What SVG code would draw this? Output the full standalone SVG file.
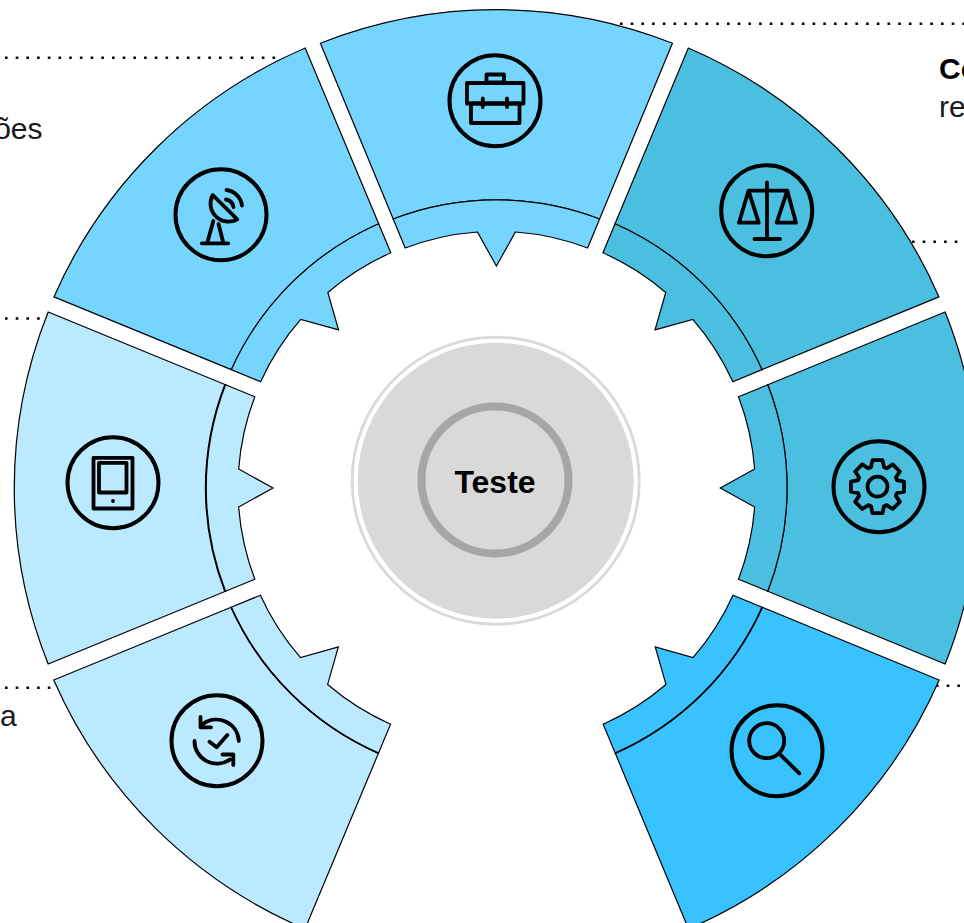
<svg xmlns="http://www.w3.org/2000/svg" xmlns:xlink="http://www.w3.org/1999/xlink" width="964" height="923" viewBox="0 0 964 923">
<style>
.lbl{font-family:"Liberation Sans",Arial,sans-serif;font-size:30px;fill:#1a1a1a}
.dot{fill:none;stroke:#000;stroke-width:2.6;stroke-dasharray:2.6 8.1}
.seg{stroke:#000;stroke-width:1.2;stroke-linejoin:miter}
.arc{fill:none;stroke:#000;stroke-width:1.7}
.ic{fill:none;stroke:#000;stroke-width:3.8;stroke-linecap:round;stroke-linejoin:round}
.ring{fill:none;stroke:#000;stroke-width:4}
.c1{fill:#75D5FF}.c2{fill:#4ABFE0}.c3{fill:#38C2FF}.c4{fill:#BBE9FF}
</style>
<defs>
<g id="wedge">
<path d="M-176 -444.4A477.8 477.8 0 0 1 176 -444.4L103.2 -268.7A287.8 287.8 0 0 0 -103.2 -268.7Z"/>
<path d="M-103.2 -268.7A287.8 287.8 0 0 1 103.2 -268.7L91.2 -239.7A256.4 256.4 0 0 0 19 -255.7L0 -221.7L-19 -255.7A256.4 256.4 0 0 0 -91.2 -239.7Z"/>
</g>
<path id="seam" d="M-103.2 -268.7A287.8 287.8 0 0 1 103.2 -268.7"/>
</defs>
<rect width="964" height="923" fill="#fff"/>
<g id="connectors">
<path class="dot" d="M620 23.7H964"/>
<path class="dot" d="M5 57.7H280"/>
<path class="dot" d="M912 241.7H964"/>
<path class="dot" d="M5 318.5H45"/>
<path class="dot" d="M5 687.7H56"/>
<path class="dot" d="M936 685.7H964"/>
</g>
<g id="node-top">
<use href="#wedge" class="seg c1" transform="translate(496.4 487.7)"/>
<circle class="ring" cx="495" cy="100.7" r="45.5"/>
<g class="ic"><rect x="486.5" y="74.5" width="17.5" height="8"/><rect x="467" y="83" width="56.5" height="20.5"/><rect x="471" y="103.5" width="48.5" height="19.5"/><path d="M482.8 98.5V107M507 98.5V107"/></g>
</g>
<g id="node-scale">
<use href="#wedge" class="seg c2" transform="translate(497.2 486.7) scale(1.007 1) rotate(45)"/>
<circle class="ring" cx="766.7" cy="210.7" r="45.5"/>
<path class="ic" d="M767 182.5V238.5M754.5 239H780M748.5 190.7H787.3M748.5 190.7L739 222.7H758.7ZM787.3 190.7L776.7 222.7H796Z"/>
</g>
<g id="node-gear">
<use href="#wedge" class="seg c2" transform="translate(496.5 488) scale(1.0095 1) rotate(90)"/>
<circle class="ring" cx="879" cy="486.7" r="45.5"/>
<g class="ic" transform="translate(877.5 486.7)"><circle r="10"/><path d="M-6.5 -19.5L-5 -26.5L5 -26.5L6.5 -19.5L9.2 -18.4L15.2 -22.3L22.3 -15.2L18.4 -9.2L19.5 -6.5L26.5 -5L26.5 5L19.5 6.5L18.4 9.2L22.3 15.2L15.2 22.3L9.2 18.4L6.5 19.5L5 26.5L-5 26.5L-6.5 19.5L-9.2 18.4L-15.2 22.3L-22.3 15.2L-18.4 9.2L-19.5 6.5L-26.5 5L-26.5 -5L-19.5 -6.5L-18.4 -9.2L-22.3 -15.2L-15.2 -22.3L-9.2 -18.4Z"/></g>
</g>
<g id="node-search">
<use href="#wedge" class="seg c3" transform="translate(497.4 490.2) scale(1.007 1) rotate(135)"/>
<use href="#seam" class="arc" transform="translate(497.4 490.2) scale(1.007 1) rotate(135)"/>
<circle class="ring" cx="777" cy="750.7" r="45.5"/>
<g class="ic"><circle cx="766.7" cy="740.7" r="17.5"/><path d="M780 754.3L799.3 773.3"/></g>
</g>
<g id="node-sync">
<use href="#wedge" class="seg c4" transform="translate(496.6 490.2) scale(1.0095 1) rotate(-135)"/>
<use href="#seam" class="arc" transform="translate(496.6 490.2) scale(1.0095 1) rotate(-135)"/>
<circle class="ring" cx="217" cy="740.7" r="45.5"/>
<path class="ic" d="M238.8 741A22.5 22.5 0 0 0 203 724M200.5 717V727.3H211M194.5 741A22.5 22.5 0 0 0 230 759.5M233.3 765V754.5H222.5M209.5 741.7L216.7 747.3L227.3 735"/>
</g>
<g id="node-tablet">
<use href="#wedge" class="seg c4" transform="translate(496.8 488) scale(1.0095 1) rotate(-90)"/>
<use href="#seam" class="seg" style="fill:none" transform="translate(496 488) scale(1.0095 1) rotate(-90)"/>
<circle class="ring" cx="113" cy="482.7" r="45.5"/>
<g class="ic"><rect x="93.5" y="457.8" width="39" height="50.7"/><rect x="99" y="462.8" width="27.5" height="29.7"/></g>
<circle cx="113" cy="501" r="1.9"/>
</g>
<g id="node-dish">
<use href="#wedge" class="seg c1" transform="translate(496.8 486.7) scale(1.0095 1) rotate(-45)"/>
<circle class="ring" cx="221" cy="214.7" r="45.5"/>
<path class="ic" d="M212.7 195A18 18 0 0 0 237.3 219.3ZM226 199.5A9 9 0 0 1 233.5 207M226.5 190A18 18 0 0 1 242 205.5M213.3 221L207.3 242.7M218.5 224L223.3 242.7M201.7 243.3H228.3"/>
</g>
<g id="node-center">
<circle cx="495.7" cy="480.7" r="143.6" fill="none" stroke="#D9D9D9" stroke-width="2.8"/>
<circle cx="495.7" cy="480.7" r="138" fill="#D9D9D9"/>
<circle cx="495" cy="480" r="73.5" fill="none" stroke="#A6A6A6" stroke-width="8"/>
<text x="495" y="493" text-anchor="middle" font-family="'Liberation Sans',Arial,sans-serif" font-weight="700" font-size="32">Teste</text>
</g>
<g id="labels">
<text class="lbl" x="42.5" y="139.3" text-anchor="end">ões</text>
<text class="lbl" x="0" y="726">a</text>
<text class="lbl" x="939" y="78.5" font-weight="700" style="fill:#000">Co</text>
<text class="lbl" x="939" y="117">re</text>
</g>
</svg>
